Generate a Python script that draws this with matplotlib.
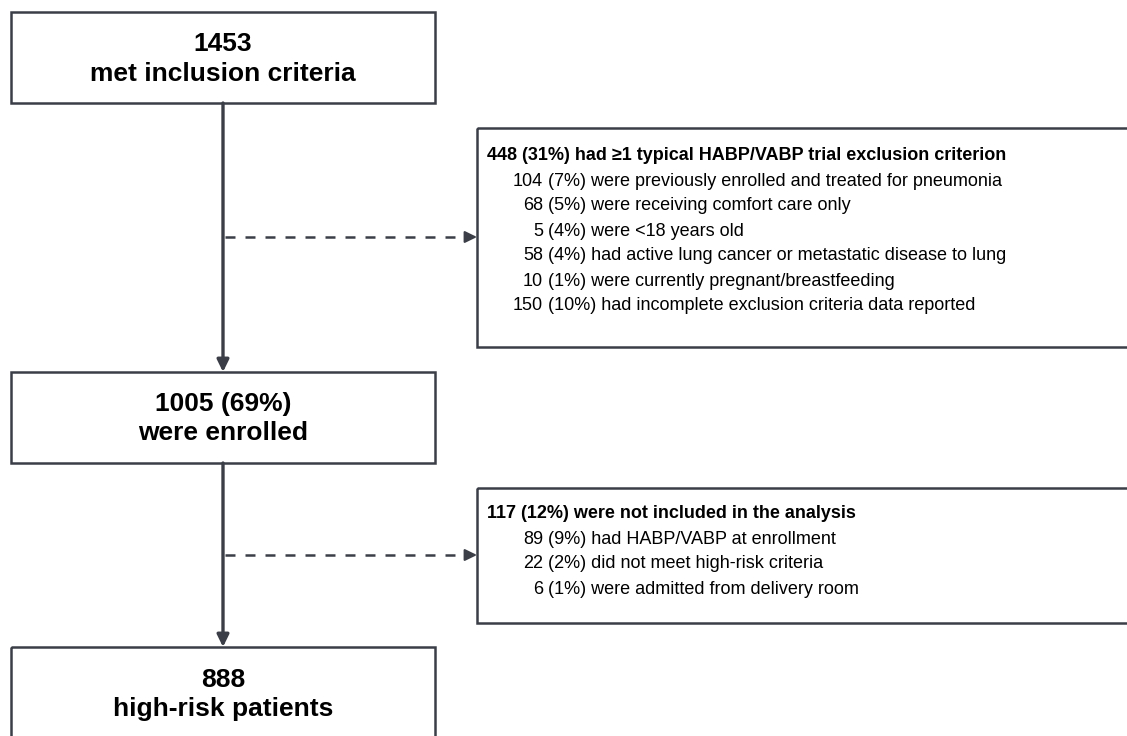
import matplotlib.pyplot as plt
from matplotlib.patches import Rectangle

plt.rcParams['font.family'] = ['Liberation Sans', 'DejaVu Sans']

# flow counts
main_titles = ['1453', '1005 (69%)', '888']
main_subs = ['met inclusion criteria', 'were enrolled', 'high-risk patients']

excl1_header = '448 (31%) had ≥1 typical HABP/VABP trial exclusion criterion'
excl1_n = ['104', '68', '5', '58', '10', '150']
excl1_txt = ['(7%) were previously enrolled and treated for pneumonia',
             '(5%) were receiving comfort care only',
             '(4%) were <18 years old',
             '(4%) had active lung cancer or metastatic disease to lung',
             '(1%) were currently pregnant/breastfeeding',
             '(10%) had incomplete exclusion criteria data reported']

excl2_header = '117 (12%) were not included in the analysis'
excl2_n = ['89', '22', '6']
excl2_txt = ['(9%) had HABP/VABP at enrollment',
             '(2%) did not meet high-risk criteria',
             '(1%) were admitted from delivery room']

W, H = 1127, 736
fig = plt.figure(figsize=(W / 100, H / 100), dpi=100)
ax = fig.add_axes([0, 0, 1, 1])
ax.set_xlim(0, W)
ax.set_ylim(H, 0)
ax.axis('off')

lc = '#3b3e46'

# main boxes (x0, y0, x1, y1) in pixels
main_boxes = [(11, 12, 435, 103), (11, 372, 435, 463), (11, 647, 435, 760)]
for x0, y0, x1, y1 in main_boxes:
    ax.add_patch(Rectangle((x0, y0), x1 - x0, y1 - y0, fill=False, ec=lc, lw=1.8, clip_on=False))
mfs = 19
ax.text(223, 44, main_titles[0], ha='center', va='center', fontsize=mfs, fontweight='bold')
ax.text(223, 74, main_subs[0], ha='center', va='center', fontsize=mfs, fontweight='bold')
ax.text(223, 404, main_titles[1], ha='center', va='center', fontsize=mfs, fontweight='bold')
ax.text(223, 433, main_subs[1], ha='center', va='center', fontsize=mfs, fontweight='bold')
ax.text(223, 680, main_titles[2], ha='center', va='center', fontsize=mfs, fontweight='bold')
ax.text(223, 709, main_subs[2], ha='center', va='center', fontsize=mfs, fontweight='bold')

# side boxes
side = [(477, 128, 1140, 347), (477, 488, 1140, 623)]
for x0, y0, x1, y1 in side:
    ax.add_patch(Rectangle((x0, y0), x1 - x0, y1 - y0, fill=False, ec=lc, lw=1.8, clip_on=False))

# vertical arrows
arr = dict(arrowstyle='-|>,head_length=0.45,head_width=0.22', color=lc, lw=2.4,
           mutation_scale=16, shrinkA=0, shrinkB=0)
ax.annotate('', xy=(223, 372), xytext=(223, 103), arrowprops=arr)
ax.annotate('', xy=(223, 647), xytext=(223, 463), arrowprops=arr)

# dashed arrows: dashed shaft + solid head
head = dict(arrowstyle='-|>,head_length=0.45,head_width=0.22', color=lc, lw=1.5,
            mutation_scale=16, shrinkA=0, shrinkB=0)
for y in (237, 555):
    ax.plot([225, 468], [y, y], color=lc, lw=1.8, dashes=(4, 4))
    ax.annotate('', xy=(477, y), xytext=(466, y), arrowprops=head)

# side box text
fs = 13
ax.text(487, 155, excl1_header, ha='left', va='center', fontsize=fs, fontweight='bold')
for i, (n, t) in enumerate(zip(excl1_n, excl1_txt)):
    y = 181 + i * 25
    ax.text(543, y, n, ha='right', va='center', fontsize=fs)
    ax.text(548, y, t, ha='left', va='center', fontsize=fs)

ax.text(487, 513, excl2_header, ha='left', va='center', fontsize=fs, fontweight='bold')
for i, (n, t) in enumerate(zip(excl2_n, excl2_txt)):
    y = 539 + i * 25
    ax.text(543, y, n, ha='right', va='center', fontsize=fs)
    ax.text(548, y, t, ha='left', va='center', fontsize=fs)

fig.savefig('out.png', dpi=100)
